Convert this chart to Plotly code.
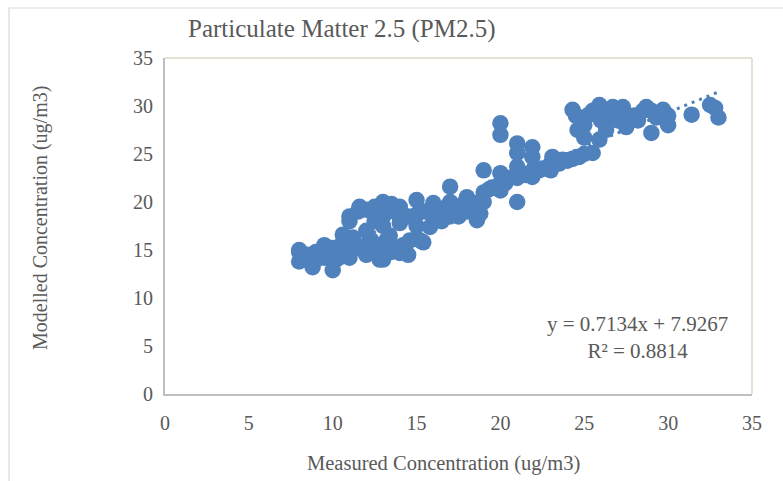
import plotly.graph_objects as go

title_text = "Particulate Matter 2.5 (PM2.5)"
x_title = "Measured Concentration (ug/m3)"
y_title = "Modelled Concentration (ug/m3)"
tick_vals = [0, 5, 10, 15, 20, 25, 30, 35]

measured = [
    8, 8, 8, 8.2, 8.5, 8.8, 9, 9, 9.2, 9.5, 9.5, 9.8, 10, 10, 10.2, 10.5, 10.5, 10.8, 11, 11,
    11.2, 11.5, 11.8, 12, 12, 12.3, 12.5, 12.8, 13, 13, 13.2, 13.5, 13.8, 14, 14.2, 14.5, 14.6, 15, 15.4,
    10.6, 11, 11, 11.5, 11.6, 12, 12, 12.5, 12.5, 13, 13, 13, 13.4, 13.5, 13.8, 14, 14, 14.5, 15, 15,
    15, 15.2, 15.5, 15.8, 16, 16, 16.3, 16.5, 16.8, 17, 17, 17, 17.3, 17.5, 17.8, 18, 18, 18.2, 18.6, 18.6,
    18.8, 19, 19, 19, 19.3, 19.5, 20, 20, 20, 20, 20, 20.3, 20.5, 21, 21, 21, 21, 21, 21.3, 21.5,
    21.9, 21.9, 21.9, 22, 22.3, 22.5, 23, 23, 23.1, 23.5, 23.7, 24, 24.3, 24.6, 25, 25.5, 24.7,
    24.3, 24.5, 24.6, 24.8, 25, 25, 25.2, 25.5, 25.9, 25.9, 26, 26, 26.3, 26.5, 26.7, 27, 27, 27.3,
    27.5, 27.5, 28, 28.2, 28.5, 28.7, 29, 29, 29.3, 29.7, 30, 30, 31.4, 32.5, 32.8, 33,
]
modelled = [
    14.8, 13.8, 15, 14.3, 14.5, 13.2, 14, 14.8, 14.6, 15.5, 14.2, 14.7, 12.9, 15.2, 14, 15.5, 14.3, 16, 15, 14.2,
    16.3, 15.3, 15, 15.5, 14.5, 16, 15.4, 14, 14, 15.3, 16, 14.8, 15.2, 14.7, 15.5, 14.5, 16, 16.2, 15.8,
    16.6, 18.5, 18, 19, 19.5, 17, 19.2, 18, 19.5, 20, 18.5, 17.5, 16.5, 19.8, 18.9, 19.5, 17.8, 18.5, 20.2, 18.7,
    17.5, 16, 19, 17.4, 19.9, 18.5, 19, 18, 19.5, 21.6, 18.5, 20, 19, 18.5, 19.8, 20.5, 19, 20, 19.9, 18.1,
    18.8, 21, 23.3, 20, 21.3, 21.5, 21.2, 22, 23, 27, 28.2, 22, 22.5, 20, 22.5, 23.7, 25.1, 26.1, 23, 22.8,
    22.6, 24.7, 25.7, 23.5, 23.3, 23.5, 23.3, 24, 24.7, 24, 24.4, 24.3, 24.5, 24.7, 25, 25.1, 24.7,
    29.6, 29, 27.5, 28.5, 26.7, 28, 29, 29.5, 30.1, 26.5, 28.5, 29.3, 27.5, 29, 29.9, 28.5, 29.5, 29.9,
    27.8, 29, 29, 28.5, 29.5, 29.9, 27.2, 29.5, 28.8, 29.6, 28, 29, 29.1, 30.1, 29.8, 28.8,
]

slope = 0.7134
intercept = 7.9267
r2 = 0.8814
trend_x = [min(measured), max(measured)]
trend_y = [slope * v + intercept for v in trend_x]

blue = "#4F81BD"
font_family = "Liberation Serif, Times New Roman, serif"
grey_text = "#595959"

fig = go.Figure()
fig.add_trace(go.Scatter(
    x=measured, y=modelled, mode="markers",
    marker=dict(size=16.5, color=blue, line=dict(width=0)),
    showlegend=False, hoverinfo="x+y",
))
fig.add_trace(go.Scatter(
    x=trend_x, y=trend_y, mode="lines",
    line=dict(color=blue, width=3, dash="3px,5px"),
    showlegend=False, hoverinfo="skip",
))

L, R, T, B = 165, 783 - 752, 58, 481 - 394
W, H = 783, 481
pw, ph = W - L - R, H - T - B

def px_x(px):
    return (px - L) / pw

def px_y(py):
    return (H - B - py) / ph

fig.update_layout(
    width=W, height=H,
    margin=dict(l=L, r=R, t=T, b=B),
    paper_bgcolor="white", plot_bgcolor="white",
    font=dict(family=font_family, color=grey_text, size=20),
    xaxis=dict(range=[0, 35], tickvals=tick_vals, showgrid=False, zeroline=False,
               showline=True, linecolor="#BFBFBF", linewidth=2, ticks="",
               tickfont=dict(size=20, color=grey_text, family=font_family),
               ticklabelstandoff=10),
    yaxis=dict(range=[0, 35], tickvals=tick_vals, showgrid=False, zeroline=False,
               showline=True, linecolor="#BFBFBF", linewidth=2, ticks="",
               tickfont=dict(size=20, color=grey_text, family=font_family),
               ticklabelstandoff=6),
    shapes=[
        dict(type="line", xref="paper", yref="paper", x0=0, x1=1, y0=1, y1=1,
             line=dict(color="#DDD9C3", width=1.5)),
        dict(type="line", xref="paper", yref="paper", x0=1, x1=1, y0=0, y1=1,
             line=dict(color="#DDD9C3", width=1.5)),
        dict(type="rect", xref="paper", yref="paper", x0=px_x(9), x1=px_x(800),
             y0=px_y(500), y1=px_y(8), line=dict(color="#D9D9D9", width=1.2),
             layer="below"),
    ],
    annotations=[
        dict(text=title_text, xref="paper", yref="paper", x=px_x(342), y=px_y(29),
             showarrow=False, xanchor="center", yanchor="middle",
             font=dict(size=25, color=grey_text, family=font_family)),
        dict(text=x_title, xref="paper", yref="paper", x=px_x(443), y=px_y(463),
             showarrow=False, xanchor="center", yanchor="middle",
             font=dict(size=20.5, color=grey_text, family=font_family)),
        dict(text=y_title, xref="paper", yref="paper", x=px_x(40), y=px_y(218),
             showarrow=False, xanchor="center", yanchor="middle", textangle=-90,
             font=dict(size=20, color=grey_text, family=font_family)),
        dict(text=f"y = {slope}x + {intercept}<br>R² = {r2}", xref="paper", yref="paper",
             x=px_x(637), y=px_y(337), showarrow=False, xanchor="center", yanchor="middle",
             align="center",
             font=dict(size=21, color=grey_text, family=font_family)),
    ],
)

fig.write_html("out.html")
